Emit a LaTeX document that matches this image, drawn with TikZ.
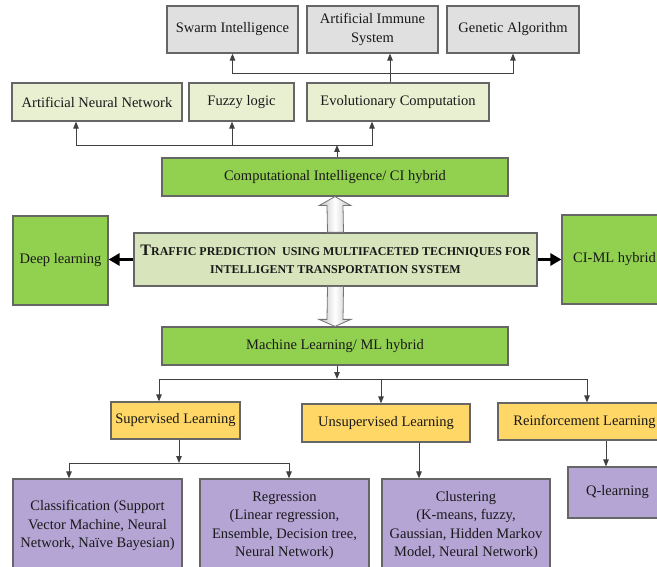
\documentclass[tikz,border=0pt]{standalone}
\usepackage{fontspec}
\setmainfont{Liberation Serif}
\usetikzlibrary{arrows.meta,calc}
\definecolor{greybox}{RGB}{224,224,224}
\definecolor{palegreen}{RGB}{233,240,210}
\definecolor{midgreen}{RGB}{216,228,188}
\definecolor{limegreen}{RGB}{146,208,80}
\definecolor{gold}{RGB}{255,215,102}
\definecolor{lilac}{RGB}{180,165,212}
\begin{document}
\begin{tikzpicture}[x=1pt,y=-1pt,
    box/.style={draw=black!60,line width=1.2pt,inner sep=0pt,align=center,
      text=black!90,font=\fontsize{14.5}{18.5}\selectfont},
    link/.style={draw=black!75,line width=0.9pt,-{Triangle[length=7pt,width=5.5pt]}},
    thick link/.style={draw=black,line width=3.5pt,-{Triangle[length=11pt,width=12pt]}},
    hollow/.style={draw=black!55,line width=0.8pt,left color=black!25,right color=black!25,middle color=white}]
    \useasboundingbox (0,0) rectangle (657,567);

    % top row
    \node[box,fill=greybox,minimum width=131,minimum height=47] (swarm) at (232.5,29.5) {Swarm Intelligence};
    \node[box,fill=greybox,minimum width=131,minimum height=47] (immune) at (372.5,29.5) {Artificial Immune\\System};
    \node[box,fill=greybox,minimum width=132,minimum height=47] (genetic) at (513,29.5) {Genetic Algorithm};

    \node[box,fill=palegreen,minimum width=170,minimum height=38] (ann) at (97,102) {Artificial Neural Network};
    \node[box,fill=palegreen,minimum width=105,minimum height=38] (fuzzy) at (241.5,102) {Fuzzy logic};
    \node[box,fill=palegreen,minimum width=182,minimum height=38] (evo) at (398,102) {Evolutionary Computation};

    \node[box,fill=limegreen,minimum width=346,minimum height=38] (ci) at (335,177) {Computational Intelligence/ CI hybrid};

    % middle
    \node[box,fill=limegreen,minimum width=95,minimum height=89] (deep) at (60.5,260.5) {Deep learning};
    \node[box,fill=midgreen,minimum width=403,minimum height=53] (central) at (335.5,259.5)
      {\bfseries{\fontsize{16}{18}\selectfont T}{\fontsize{12}{18}\selectfont RAFFIC PREDICTION\ \ USING MULTIFACETED TECHNIQUES FOR}\\
       \bfseries\fontsize{12}{18}\selectfont INTELLIGENT TRANSPORTATION SYSTEM};
    \node[box,fill=limegreen,minimum width=105,minimum height=89] (ciml) at (614.5,259.5) {CI-ML hybrid};

    \node[box,fill=limegreen,minimum width=346,minimum height=38] (ml) at (335,346) {Machine Learning/ ML hybrid};

    % learning types
    \node[box,fill=gold,minimum width=129,minimum height=37] (sup) at (175.5,420.5) {Supervised Learning};
    \node[box,fill=gold,minimum width=168,minimum height=38] (unsup) at (386,423) {Unsupervised Learning};
    \node[box,fill=gold,minimum width=173,minimum height=37] (reinf) at (584.5,421.5) {Reinforcement Learning};

    \node[box,fill=lilac,minimum width=169,minimum height=93] (class) at (97.5,525.5)
      {Classification (Support\\Vector Machine, Neural\\Network, Na\"ive Bayesian)};
    \node[box,fill=lilac,minimum width=169,minimum height=93] (regr) at (284.5,525.5)
      {Regression\\(Linear regression,\\Ensemble, Decision tree,\\Neural Network)};
    \node[box,fill=lilac,minimum width=168,minimum height=93] (clus) at (466,525.5)
      {Clustering\\(K-means, fuzzy,\\Gaussian, Hidden Markov\\Model, Neural Network)};
    \node[box,fill=lilac,minimum width=99,minimum height=51] (qlearn) at (617.5,492.5) {Q-learning};

    % CI tree
    \coordinate (evobus) at (390,73);
    \draw[link] (evobus) -| (swarm.south);
    \draw[link] (evobus) -| (genetic.south);
    \draw[link] ([xshift=-8]evo.north) -- ([xshift=17.5]immune.south);

    \coordinate (cibus) at (337,145);
    \draw[link] (cibus) -| ([xshift=-21]ann.south);
    \draw[link] (cibus) -| ([xshift=-9.5]fuzzy.south);
    \draw[link] (cibus) -| ([xshift=-26]evo.south);
    \draw[link] ([xshift=2]ci.north) -- (cibus);

    % hollow arrows
    \draw[hollow] ([xshift=-8]central.north) -- ([xshift=-8,yshift=-9]ci.south) -- ([xshift=-16,yshift=-9]ci.south)
      -- (ci.south) -- ([xshift=16,yshift=-9]ci.south) -- ([xshift=8,yshift=-9]ci.south) -- ([xshift=8]central.north) -- cycle;
    \draw[hollow] ([xshift=-8]central.south) -- ([xshift=-8,yshift=7]ml.north) -- ([xshift=-16,yshift=7]ml.north)
      -- (ml.north) -- ([xshift=16,yshift=7]ml.north) -- ([xshift=8,yshift=7]ml.north) -- ([xshift=8]central.south) -- cycle;

    \draw[thick link] (central.west) -- (central.west -| deep.east);
    \draw[thick link] (central.east) -- (central.east -| ciml.west);

    % ML tree
    \coordinate (mlbus) at (337,379);
    \draw[link] ([xshift=2]ml.south) -- (mlbus);
    \draw[link] (mlbus) -| ([xshift=-16.5]sup.north);
    \draw[link] (mlbus) -| ([xshift=-5]unsup.north);
    \draw[link] (mlbus) -| ([xshift=2.5]reinf.north);

    \coordinate (supbus) at (179,463);
    \draw[link] ([xshift=3.5]sup.south) -- (supbus);
    \draw[link] (supbus) -| ([xshift=-28.5]class.north);
    \draw[link] (supbus) -| ([xshift=4.5]regr.north);
    \draw[link] ([xshift=33]unsup.south) -- ([xshift=-47]clus.north);
    \draw[link] ([xshift=21.5]reinf.south) -- ([xshift=-11.5]qlearn.north);
\end{tikzpicture}
\end{document}
